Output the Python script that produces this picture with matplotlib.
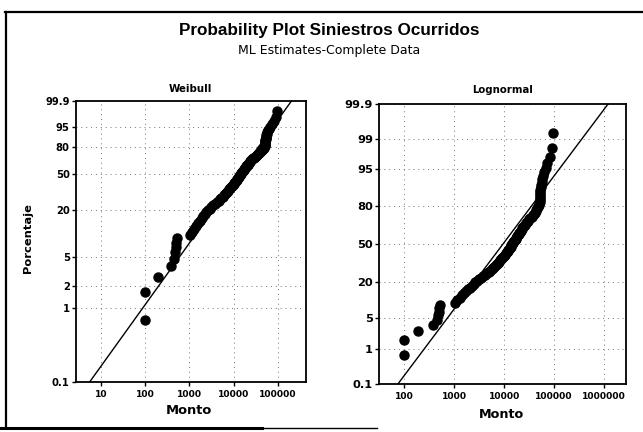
import math
import numpy as np
import matplotlib
matplotlib.use("Agg")
import matplotlib.pyplot as plt
from matplotlib.ticker import NullLocator
from matplotlib.lines import Line2D

# ---------------- data ----------------
monto = [100, 100, 190, 380, 450, 480, 500, 500, 510, 1050,
         1130, 1280, 1420, 1550, 1740, 1880, 2040, 2240, 2430, 2630,
         2850, 3160, 3470, 3800, 4170, 4570, 5010, 5250, 5620, 6030,
         6310, 6760, 7080, 7590, 7940, 8320, 8710, 9120, 9550, 10000,
         10400, 10800, 11300, 11700, 12200, 12600, 13000, 13500, 13900, 14400,
         14900, 15300, 15800, 16300, 16900, 17500, 18100, 18700, 19400, 20000,
         20900, 21600, 22400, 23200, 24100, 25100, 26200, 27500, 28900, 30300,
         32000, 33700, 35500, 37300, 38900, 40700, 42700, 44200, 46500, 48800,
         50100, 50700, 51300, 51800, 52200, 52500, 52700, 53100, 53500, 53700,
         55200, 56600, 58300, 60300, 63100, 67600, 72400, 81300, 89100, 95500]

# fitted (ML) parameters
weib_shape = 0.84
weib_scale = 20700.0
logn_loc = 9.164     # mean of ln(x)
logn_scale = 1.568   # sd of ln(x)

weib_yticks = [0.1, 1, 2, 5, 20, 50, 80, 95, 99.9]
logn_yticks = [0.1, 1, 5, 20, 50, 80, 95, 99, 99.9]
weib_xticks = [10, 100, 1000, 10000, 100000]
logn_xticks = [100, 1000, 10000, 100000, 1000000]

title = "Probability Plot Siniestros Ocurridos"
subtitle = "ML Estimates-Complete Data"
panel_titles = ["Weibull", "Lognormal"]
xlabel = "Monto"
ylabel = "Porcentaje"

# ---------------- helpers ----------------
def norm_ppf(p):
    p = np.clip(np.asarray(p, float), 1e-12, 1 - 1e-12)
    a = [-3.969683028665376e+01, 2.209460984245205e+02, -2.759285104469687e+02,
         1.383577518672690e+02, -3.066479806614716e+01, 2.506628277459239e+00]
    b = [-5.447609879822406e+01, 1.615858368580409e+02, -1.556989798598866e+02,
         6.680131188771972e+01, -1.328068155288572e+01]
    c = [-7.784894002430293e-03, -3.223964580411365e-01, -2.400758277161838e+00,
         -2.549671348283083e+00, 4.374664141464968e+00, 2.938163982698783e+00]
    d = [7.784695709041462e-03, 3.224671290700398e-01, 2.445134137142996e+00,
         3.754408661907416e+00]
    plow = 0.02425
    out = np.empty_like(p)
    lo = p < plow
    hi = p > 1 - plow
    mid = ~(lo | hi)
    q = np.sqrt(-2 * np.log(p[lo]))
    out[lo] = (((((c[0]*q+c[1])*q+c[2])*q+c[3])*q+c[4])*q+c[5]) / \
              ((((d[0]*q+d[1])*q+d[2])*q+d[3])*q+1)
    q = np.sqrt(-2 * np.log(1 - p[hi]))
    out[hi] = -(((((c[0]*q+c[1])*q+c[2])*q+c[3])*q+c[4])*q+c[5]) / \
               ((((d[0]*q+d[1])*q+d[2])*q+d[3])*q+1)
    q = p[mid] - 0.5
    r = q * q
    out[mid] = (((((a[0]*r+a[1])*r+a[2])*r+a[3])*r+a[4])*r+a[5])*q / \
               (((((b[0]*r+b[1])*r+b[2])*r+b[3])*r+b[4])*r+1)
    return out

_erf = np.vectorize(math.erf)

def norm_cdf(z):
    return 0.5 * (1 + _erf(np.asarray(z, float) / math.sqrt(2)))

def weib_fwd(pct):
    p = np.clip(np.asarray(pct, float) / 100.0, 1e-12, 1 - 1e-12)
    return np.log(-np.log(1 - p))

def weib_inv(w):
    return 100.0 * (1 - np.exp(-np.exp(np.asarray(w, float))))

def logn_fwd(pct):
    return norm_ppf(np.asarray(pct, float) / 100.0)

def logn_inv(z):
    return 100.0 * norm_cdf(z)

# plotting positions (median ranks)
n = len(monto)
ranks = np.arange(1, n + 1)
pct = (ranks - 0.3) / (n + 0.4) * 100.0
xs = np.sort(np.array(monto, float))

# ---------------- figure ----------------
W, H = 643, 432
fig = plt.figure(figsize=(W / 100, H / 100), dpi=100)
fig.patch.set_facecolor("white")

def axrect(l, r, t, b):
    return [l / W, 1 - b / H, (r - l) / W, (b - t) / H]

ax1 = fig.add_axes(axrect(76, 305.5, 100.7, 381.7))
ax2 = fig.add_axes(axrect(379.3, 626, 104, 383.5))

grid_kw = dict(color="0.45", linestyle=(0, (1, 4)), linewidth=0.7)

def style(ax, yticks, xticks, xlim, ysize):
    ax.set_xscale("log")
    ax.set_ylim(0.1, 99.9)
    ax.set_xlim(*xlim)
    ax.set_yticks(yticks, [("%g" % v) for v in yticks])
    ax.set_xticks(xticks, [str(v) for v in xticks])
    ax.xaxis.set_minor_locator(NullLocator())
    ax.yaxis.set_minor_locator(NullLocator())
    ax.tick_params(axis="y", length=3, width=1, pad=1.5, labelsize=ysize)
    ax.tick_params(axis="x", length=3, width=1, pad=3, labelsize=6.6)
    for lab in ax.get_xticklabels() + ax.get_yticklabels():
        lab.set_fontweight("bold")
        lab.set_family("DejaVu Sans")
    for s in ax.spines.values():
        s.set_linewidth(1.3)
        s.set_color("black")
    ax.grid(True, which="major", **grid_kw)
    ax.set_axisbelow(True)

# Weibull panel
ax1.set_yscale("function", functions=(weib_fwd, weib_inv))
style(ax1, weib_yticks, weib_xticks, (2.7, 4.25e5), 7.2)
pl = np.linspace(0.1, 99.9, 400)
xw = weib_scale * (-np.log(1 - pl / 100.0)) ** (1.0 / weib_shape)
ax1.plot(xw, pl, color="black", lw=1.0, zorder=3)
ax1.plot(xs, pct, "o", color="black", ms=6.5, zorder=4)

# Lognormal panel
ax2.set_yscale("function", functions=(logn_fwd, logn_inv))
style(ax2, logn_yticks, logn_xticks, (10 ** 1.495, 10 ** 6.444), 8.2)
xl = np.exp(logn_loc + logn_scale * norm_ppf(pl / 100.0))
ax2.plot(xl, pl, color="black", lw=1.0, zorder=3)
ax2.plot(xs, pct, "o", color="black", ms=6.5, zorder=4)

# ---------------- texts ----------------
def figtext(x, y, s, **kw):
    return fig.text(x / W, 1 - y / H, s, ha="center", va="center", **kw)

t_title = figtext(329, 30.5, title, family="Liberation Sans", fontweight="bold", fontsize=11)
t_sub = figtext(329, 50.5, subtitle, family="DejaVu Sans", fontsize=7.5)
t_w = figtext(190, 89, panel_titles[0], family="DejaVu Sans", fontweight="bold", fontsize=7)
t_l = figtext(502.5, 90, panel_titles[1], family="DejaVu Sans", fontweight="bold", fontsize=7)
t_x1 = figtext(189, 410, xlabel, family="DejaVu Sans", fontweight="bold", fontsize=8)
t_x2 = figtext(502, 414, xlabel, family="DejaVu Sans", fontweight="bold", fontsize=8)
t_y = figtext(28, 238, ylabel, family="DejaVu Sans", fontweight="bold", fontsize=7, rotation=90)

fig.canvas.draw()
renderer = fig.canvas.get_renderer()

def fit_w(t, target):
    bb = t.get_window_extent(renderer)
    t.set_fontsize(t.get_fontsize() * target / bb.width)

def fit_h(t, target):
    bb = t.get_window_extent(renderer)
    t.set_fontsize(t.get_fontsize() * target / bb.height)

fit_w(t_title, 300)
fit_w(t_sub, 183)
fit_w(t_w, 44)
fit_w(t_l, 61)
fit_w(t_x1, 46)
fit_w(t_x2, 45)
fit_h(t_y, 70)

# scanned page frame
frame_kw = dict(color="black", transform=fig.transFigure)
fig.add_artist(Line2D([5 / W, 1], [1 - 12 / H, 1 - 12 / H], lw=1.6, **frame_kw))
fig.add_artist(Line2D([6 / W, 6 / W], [1 - 12 / H, 1 - 428 / H], lw=1.6, **frame_kw))
fig.add_artist(Line2D([0, 262 / W], [1 - 428 / H, 1 - 428 / H], lw=2.2, **frame_kw))
fig.add_artist(Line2D([262 / W, 377 / W], [1 - 428 / H, 1 - 428 / H], lw=1.0, **frame_kw))

fig.savefig("out.png", dpi=100, facecolor="white")
